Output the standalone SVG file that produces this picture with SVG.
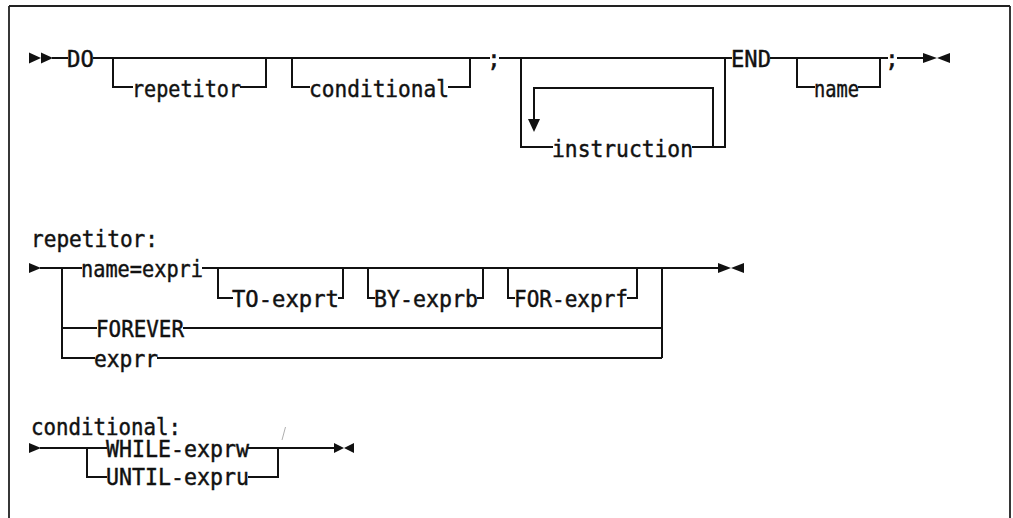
<svg xmlns="http://www.w3.org/2000/svg" width="1013" height="518" viewBox="0 0 1013 518">
<style>
  .ln { fill: none; stroke: #111; stroke-width: 2; }
  .fr { fill: none; stroke: #222; stroke-width: 1.8; }
  .ah { fill: #111; stroke: none; }
  text { font-family: "DejaVu Sans Mono", "Liberation Mono", monospace; font-size: 23px; fill: #111; stroke: #111; stroke-width: 0.45; }
</style>
<rect width="1013" height="518" fill="#fff"/>
<g id="frame">
  <path class="fr" d="M9,6 H1010 M9,6 V518 M1010,6 V518"/>
</g>
<g id="connectors">
  <path class="ln" d="M52,58 H68 M93,58 H490 M499,58 H732 M770,58 H888 M897,58 H923"/>
  <path class="ln" d="M113,58 V87 H133 M240,87 H266 V58"/>
  <path class="ln" d="M292,58 V87 H310 M448,87 H470 V58"/>
  <path class="ln" d="M521,58 V147 H553 M692,147 H725 V58"/>
  <path class="ln" d="M713,147 V88 H534 V121"/>
  <path class="ln" d="M797,58 V87 H815 M858,87 H880 V58"/>
  <polygon class="ah" points="29,52.5 41,58 29,63.5"/>
  <polygon class="ah" points="41,52.5 53,58 41,63.5"/>
  <polygon class="ah" points="528,119 540,119 534,132"/>
  <polygon class="ah" points="923,53 937,58 923,63"/>
  <polygon class="ah" points="950,53 937,58 950,63"/>
  <path class="ln" d="M40,268 H82 M202,268 H719"/>
  <path class="ln" d="M62,268 V358 H95 M62,328 H97 M183,328 H662 M157,358 H662 M662,268 V358"/>
  <path class="ln" d="M218,268 V298 H233 M338,298 H343 V268"/>
  <path class="ln" d="M368,268 V298 H375 M477,298 H483 V268"/>
  <path class="ln" d="M508,268 V298 H515 M627,298 H637 V268"/>
  <polygon class="ah" points="29,263 41,268 29,273"/>
  <polygon class="ah" points="718,263 731,268 718,273"/>
  <polygon class="ah" points="744,263 731,268 744,273"/>
  <path class="ln" d="M40,448 H107 M87,448 V477 H107 M248,448 H335 M248,477 H278 V448"/>
  <polygon class="ah" points="29,443 41,448 29,453"/>
  <polygon class="ah" points="334,443 344,448 334,453"/>
  <polygon class="ah" points="354,443 344,448 354,453"/>
  <path d="M282,440 L285.5,427" stroke="#999" stroke-width="0.8" fill="none"/>
</g>
<g id="n-do"><text x="67" y="66.5" textLength="27" lengthAdjust="spacingAndGlyphs">DO</text></g>
<g id="n-repetitor"><text x="132" y="96.5" textLength="109" lengthAdjust="spacingAndGlyphs">repetitor</text></g>
<g id="n-conditional"><text x="309" y="96.5" textLength="140" lengthAdjust="spacingAndGlyphs">conditional</text></g>
<g id="n-semi1"><text x="487" y="66.5">;</text></g>
<g id="n-instruction"><text x="552" y="156.5" textLength="141" lengthAdjust="spacingAndGlyphs">instruction</text></g>
<g id="n-end"><text x="731" y="66.5" textLength="40" lengthAdjust="spacingAndGlyphs">END</text></g>
<g id="n-name"><text x="814" y="96.5" textLength="45" lengthAdjust="spacingAndGlyphs">name</text></g>
<g id="n-semi2"><text x="885" y="66.5">;</text></g>
<g id="l-repetitor"><text x="31" y="247" textLength="127" lengthAdjust="spacingAndGlyphs">repetitor:</text></g>
<g id="n-name-expri"><text x="81" y="276.5" textLength="122" lengthAdjust="spacingAndGlyphs">name=expri</text></g>
<g id="n-to"><text x="232" y="306.5" textLength="107" lengthAdjust="spacingAndGlyphs">TO-exprt</text></g>
<g id="n-by"><text x="374" y="306.5" textLength="104" lengthAdjust="spacingAndGlyphs">BY-exprb</text></g>
<g id="n-for"><text x="514" y="306.5" textLength="114" lengthAdjust="spacingAndGlyphs">FOR-exprf</text></g>
<g id="n-forever"><text x="96" y="336.5" textLength="88" lengthAdjust="spacingAndGlyphs">FOREVER</text></g>
<g id="n-exprr"><text x="94" y="366.5" textLength="64" lengthAdjust="spacingAndGlyphs">exprr</text></g>
<g id="l-conditional"><text x="31" y="434.5" textLength="150" lengthAdjust="spacingAndGlyphs">conditional:</text></g>
<g id="n-while"><text x="106" y="456.5" textLength="143" lengthAdjust="spacingAndGlyphs">WHILE-exprw</text></g>
<g id="n-until"><text x="106" y="485" textLength="143" lengthAdjust="spacingAndGlyphs">UNTIL-expru</text></g>
</svg>
